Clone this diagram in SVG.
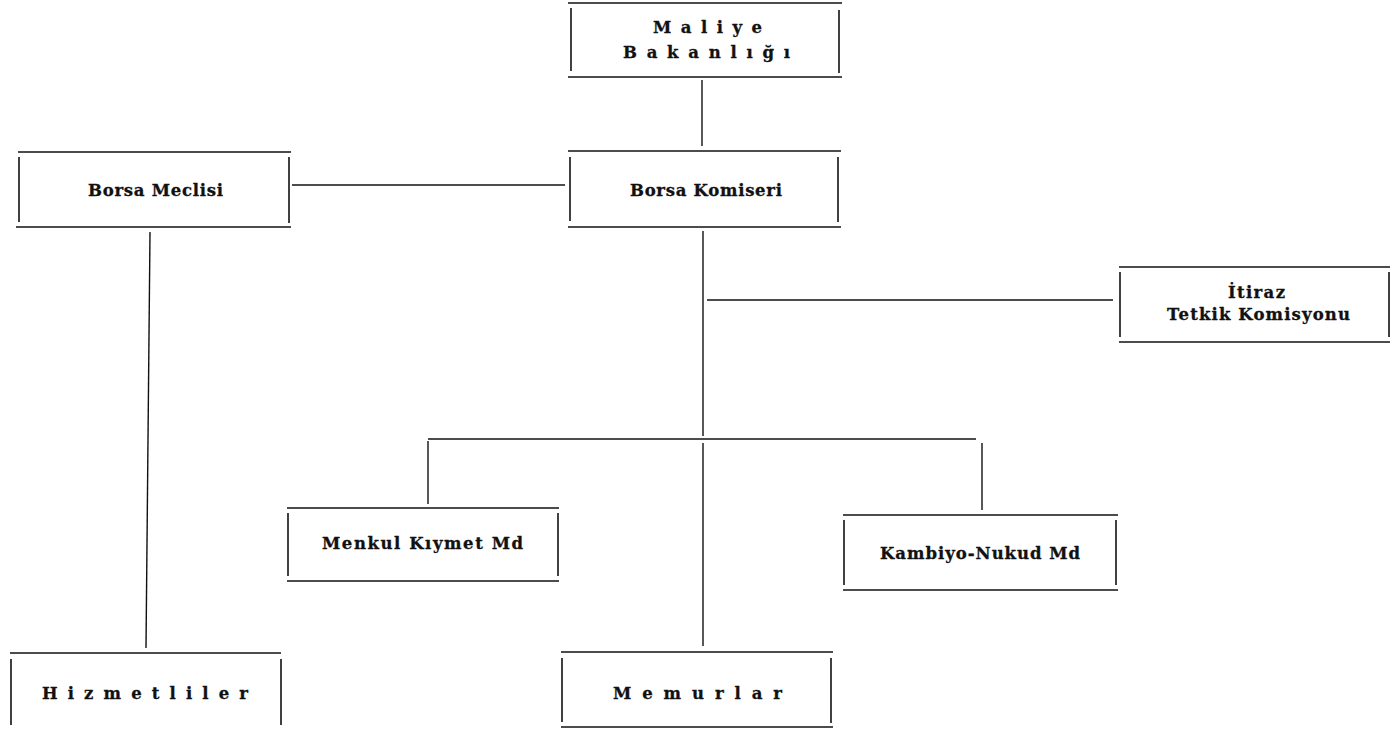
<svg xmlns="http://www.w3.org/2000/svg" width="1397" height="729" viewBox="0 0 1397 729">
<style>
.b line{stroke:#111;stroke-width:1.6}
.c line{stroke:#111;stroke-width:1.4}
text{font-family:"DejaVu Serif","Liberation Serif",serif;font-weight:bold;font-size:16.5px;fill:#111;stroke:#111;stroke-width:0.3}
</style>
<rect width="1397" height="729" fill="#fff"/>
<g class="c" id="connectors">
<line x1="702" y1="80" x2="702" y2="146"/>
<line x1="292" y1="185" x2="565" y2="185"/>
<line x1="703" y1="231" x2="703" y2="436"/>
<line x1="707" y1="300" x2="1113" y2="300"/>
<line x1="428" y1="439" x2="976" y2="439"/>
<line x1="428" y1="441" x2="428" y2="504"/>
<line x1="703" y1="443" x2="703" y2="646"/>
<line x1="982" y1="443" x2="982" y2="510"/>
<line x1="150" y1="232" x2="146" y2="648"/>
</g>
<g class="b" id="maliye">
<line x1="568" y1="3" x2="842" y2="3"/><line x1="568" y1="77" x2="842" y2="77"/>
<line x1="571" y1="8" x2="571" y2="71"/><line x1="839" y1="10" x2="839" y2="73"/>
<text x="653" y="33" textLength="109" lengthAdjust="spacing">Maliye</text>
<text x="623" y="58" textLength="167" lengthAdjust="spacing">Bakanlığı</text>
</g>
<g class="b" id="meclisi">
<line x1="18" y1="152" x2="291" y2="152"/><line x1="16" y1="227" x2="291" y2="227"/>
<line x1="19" y1="157" x2="19" y2="222"/><line x1="289" y1="157" x2="289" y2="223"/>
<text x="88" y="196" textLength="135" lengthAdjust="spacing">Borsa  Meclisi</text>
</g>
<g class="b" id="komiseri">
<line x1="568" y1="151" x2="841" y2="151"/><line x1="568" y1="227" x2="841" y2="227"/>
<line x1="570" y1="157" x2="570" y2="221"/><line x1="838" y1="157" x2="838" y2="222"/>
<text x="630" y="196" textLength="152" lengthAdjust="spacing">Borsa Komiseri</text>
</g>
<g class="b" id="itiraz">
<line x1="1119" y1="267" x2="1390" y2="267"/><line x1="1119" y1="342" x2="1390" y2="342"/>
<line x1="1120" y1="272" x2="1120" y2="337"/><line x1="1389" y1="272" x2="1389" y2="337"/>
<text x="1228" y="298" textLength="57" lengthAdjust="spacing">İtiraz</text>
<text x="1167" y="320" textLength="183" lengthAdjust="spacing">Tetkik  Komisyonu</text>
</g>
<g class="b" id="menkul">
<line x1="287" y1="508" x2="559" y2="508"/><line x1="287" y1="581" x2="559" y2="581"/>
<line x1="288" y1="513" x2="288" y2="576"/><line x1="558" y1="513" x2="558" y2="576"/>
<text x="322" y="549" textLength="201" lengthAdjust="spacing">Menkul  Kıymet  Md</text>
</g>
<g class="b" id="kambiyo">
<line x1="843" y1="515" x2="1118" y2="515"/><line x1="843" y1="590" x2="1118" y2="590"/>
<line x1="844" y1="520" x2="844" y2="585"/><line x1="1116" y1="520" x2="1116" y2="585"/>
<text x="880" y="559" textLength="200" lengthAdjust="spacing">Kambiyo-Nukud  Md</text>
</g>
<g class="b" id="hizmetliler">
<line x1="10" y1="653" x2="281" y2="653"/>
<line x1="11" y1="659" x2="11" y2="725"/><line x1="281" y1="659" x2="281" y2="725"/>
<text x="42" y="699" textLength="206" lengthAdjust="spacing">Hizmetliler</text>
</g>
<g class="b" id="memurlar">
<line x1="561" y1="652" x2="833" y2="652"/><line x1="561" y1="727" x2="833" y2="727"/>
<line x1="562" y1="658" x2="562" y2="722"/><line x1="831" y1="658" x2="831" y2="723"/>
<text x="613" y="699" textLength="169" lengthAdjust="spacing">Memurlar</text>
</g>
</svg>
